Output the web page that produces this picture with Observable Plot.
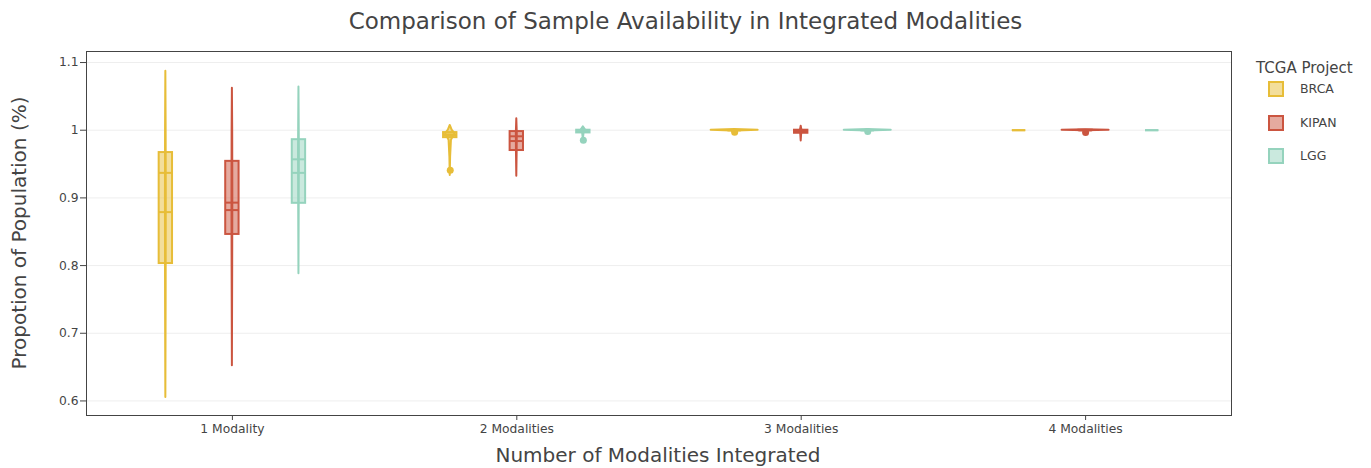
<!DOCTYPE html>
<html>
<head>
<meta charset="utf-8">
<script src="https://cdn.jsdelivr.net/npm/d3@7"></script>
<script src="https://cdn.jsdelivr.net/npm/@observablehq/plot@0.6"></script>
<style>
  body { margin: 0; background: #fff; }
  #wrap { position: relative; width: 1371px; height: 468px; font-family: "DejaVu Sans", Verdana, sans-serif; color: #444; }
  #wrap svg.plot { position: absolute; left: 0; top: 0; }
  .ov { position: absolute; white-space: nowrap; line-height: 1; }
  #title { left: 0; width: 1371px; text-align: center; top: 10px; font-size: 23px; }
  #ylab { left: 19px; top: 233px; font-size: 20px; transform: translate(-50%, -50%) rotate(-90deg); }
  #xlab { left: 658px; top: 455px; font-size: 20px; transform: translate(-50%, -50%); }
  .lg { position: absolute; white-space: nowrap; line-height: 1; transform: translateY(-50%); }
  .lg.t { left: 1256px; top: 68px; font-size: 15px; }
  .lg.i { left: 1300px; font-size: 12.5px; }
  .lg.s { left: 1268px; }
</style>
</head>
<body>
<div id="wrap">
  <div id="chart"></div>
  <div class="ov" id="title">Comparison of Sample Availability in Integrated Modalities</div>
  <div class="ov" id="ylab">Propotion of Population (%)</div>
  <div class="ov" id="xlab">Number of Modalities Integrated</div>
  <div id="legend"></div>
</div>
<script>
// ---- data ----
const projects = ["BRCA", "KIPAN", "LGG"];
const modalities = ["1 Modality", "2 Modalities", "3 Modalities", "4 Modalities"];
const yTicks = [0.6, 0.7, 0.8, 0.9, 1.0, 1.1];

// [modality, project, q1, median, mean, q3]
const boxStats = [
  ["1 Modality", "BRCA", 0.803, 0.937, 0.879, 0.967],
  ["1 Modality", "KIPAN", 0.846, 0.893, 0.882, 0.954],
  ["1 Modality", "LGG", 0.892, 0.957, 0.937, 0.986],
  ["2 Modalities", "BRCA", 0.989, 0.9935, 0.9925, 0.9965],
  ["2 Modalities", "KIPAN", 0.970, 0.991, 0.984, 0.998],
  ["2 Modalities", "LGG", 0.996, 0.999, 0.998, 1.0],
  ["3 Modalities", "BRCA", 1.0, 1.0, 1.0, 1.0],
  ["3 Modalities", "KIPAN", 0.9955, 0.999, 0.998, 1.0],
  ["3 Modalities", "LGG", 1.0, 1.0, 1.0, 1.0],
  ["4 Modalities", "BRCA", 1.0, 1.0, 1.0, 1.0],
  ["4 Modalities", "KIPAN", 0.9995, 1.0, 1.0, 1.0],
  ["4 Modalities", "LGG", 1.0, 1.0, 1.0, 1.0]
];

// violin outline: [modality, project, value, relative density width]
const violinProfile = [
  ["1 Modality", "BRCA", 0.605, 0], ["1 Modality", "BRCA", 0.75, 0.012], ["1 Modality", "BRCA", 0.90, 0.018], ["1 Modality", "BRCA", 1.0, 0.012], ["1 Modality", "BRCA", 1.087, 0],
  ["1 Modality", "KIPAN", 0.652, 0], ["1 Modality", "KIPAN", 0.80, 0.012], ["1 Modality", "KIPAN", 0.90, 0.018], ["1 Modality", "KIPAN", 1.0, 0.012], ["1 Modality", "KIPAN", 1.062, 0],
  ["1 Modality", "LGG", 0.788, 0], ["1 Modality", "LGG", 0.90, 0.012], ["1 Modality", "LGG", 0.97, 0.018], ["1 Modality", "LGG", 1.064, 0],
  ["2 Modalities", "BRCA", 0.933, 0], ["2 Modalities", "BRCA", 0.96, 0.015], ["2 Modalities", "BRCA", 0.985, 0.05], ["2 Modalities", "BRCA", 0.995, 0.2], ["2 Modalities", "BRCA", 1.0, 0.08], ["2 Modalities", "BRCA", 1.007, 0],
  ["2 Modalities", "KIPAN", 0.932, 0], ["2 Modalities", "KIPAN", 0.97, 0.015], ["2 Modalities", "KIPAN", 0.995, 0.02], ["2 Modalities", "KIPAN", 1.017, 0],
  ["2 Modalities", "LGG", 0.986, 0], ["2 Modalities", "LGG", 0.996, 0.03], ["2 Modalities", "LGG", 1.0, 0.1], ["2 Modalities", "LGG", 1.005, 0],
  ["3 Modalities", "BRCA", 0.9955, 0], ["3 Modalities", "BRCA", 0.999, 0.12], ["3 Modalities", "BRCA", 1.0, 1], ["3 Modalities", "BRCA", 1.0012, 0],
  ["3 Modalities", "KIPAN", 0.984, 0], ["3 Modalities", "KIPAN", 0.995, 0.02], ["3 Modalities", "KIPAN", 1.0, 0.03], ["3 Modalities", "KIPAN", 1.006, 0],
  ["3 Modalities", "LGG", 0.999, 0], ["3 Modalities", "LGG", 1.0, 1], ["3 Modalities", "LGG", 1.001, 0],
  ["4 Modalities", "KIPAN", 0.9992, 0], ["4 Modalities", "KIPAN", 1.0, 1], ["4 Modalities", "KIPAN", 1.0008, 0]
];

// [modality, project, value]
const outliers = [
  ["2 Modalities", "BRCA", 0.941],
  ["2 Modalities", "LGG", 0.985],
  ["3 Modalities", "BRCA", 0.997],
  ["3 Modalities", "LGG", 0.998],
  ["4 Modalities", "KIPAN", 0.9966]
];

const colors = ["#E7BD38", "#CB5540", "#95D3BD"];

// ---- layout helpers ----
const GROUP_OFFSET = 0.234;
const VIOLIN_HW = 0.0826;
const BOX_HW = 0.0235;
const xc = (m, p) => modalities.indexOf(m) + (projects.indexOf(p) - 1) * GROUP_OFFSET;

const boxRows = boxStats.map(([m, p, q1, median, mean, q3]) => ({m, p, q1, median, mean, q3, c: xc(m, p)}));
const violinRows = violinProfile.map(([m, p, v, w]) => ({m, p, v, w, c: xc(m, p), key: m + "|" + p}));
const outRows = outliers.map(([m, p, v]) => ({m, p, v, c: xc(m, p)}));

const chart = Plot.plot({
  width: 1371,
  height: 468,
  marginLeft: 86,
  marginRight: 140,
  marginTop: 51,
  marginBottom: 53,
  style: {fontFamily: "DejaVu Sans, Verdana, sans-serif", fontSize: "12.3px", color: "#444", background: "#fff"},
  x: {domain: [-0.513, 3.513], ticks: [0, 1, 2, 3], tickFormat: i => modalities[i], tickSize: 5, tickPadding: 4, label: null},
  y: {domain: [0.5785, 1.1163], ticks: yTicks, tickFormat: d => String(+d.toFixed(1)), tickSize: 6, tickPadding: 2, label: null},
  color: {domain: projects, range: colors},
  marks: [
    Plot.gridY(yTicks, {stroke: "#eeeeee", strokeOpacity: 1, strokeWidth: 1}),
    Plot.areaX(violinRows, {
      y: "v",
      x1: d => d.c - d.w * VIOLIN_HW,
      x2: d => d.c + d.w * VIOLIN_HW,
      z: "key",
      fill: "p", fillOpacity: 0.5,
      stroke: "p", strokeWidth: 2, strokeLinejoin: "round"
    }),
    Plot.rect(boxRows, {
      x1: d => d.c - BOX_HW, x2: d => d.c + BOX_HW,
      y1: "q1", y2: "q3",
      fill: "p", fillOpacity: 0.5, stroke: "p", strokeWidth: 2
    }),
    Plot.ruleY(boxRows, {y: "median", x1: d => d.c - BOX_HW, x2: d => d.c + BOX_HW, stroke: "p", strokeWidth: 2}),
    Plot.ruleY(boxRows, {y: "mean", x1: d => d.c - BOX_HW, x2: d => d.c + BOX_HW, stroke: "p", strokeWidth: 2}),
    Plot.dot(outRows, {x: "c", y: "v", fill: "p", r: 3.5}),
    Plot.frame({stroke: "#444", strokeWidth: 1})
  ]
});
chart.classList.add("plot");
document.getElementById("chart").appendChild(chart);

// legend
const legend = document.getElementById("legend");
const itemY = [89, 122.5, 156];
legend.innerHTML = `<div class="lg t">TCGA Project</div>` + projects.map((p, i) =>
  `<div class="lg s" style="top:${itemY[i]}px"><svg width="16" height="16" style="display:block"><rect x="1" y="1" width="14" height="14" fill="${colors[i]}" fill-opacity="0.5" stroke="${colors[i]}" stroke-width="2"/></svg></div>` +
  `<div class="lg i" style="top:${itemY[i]}px">${p}</div>`
).join("");
</script>
</body>
</html>
